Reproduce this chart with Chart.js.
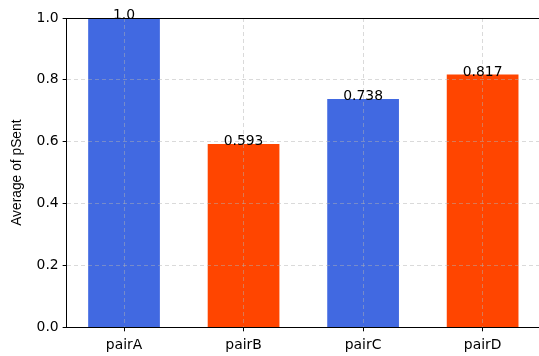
<!DOCTYPE html>
<html><head><meta charset="utf-8">
<script src="https://cdn.jsdelivr.net/npm/chart.js@4/dist/chart.umd.min.js"></script>
<style>html,body{margin:0;padding:0;background:#fff;overflow:hidden}</style>
</head><body>
<canvas id="c" width="545" height="360" style="display:block;width:545px;height:360px"></canvas>
<script>
const categories = ["pairA", "pairB", "pairC", "pairD"];
const values = [1.0, 0.593, 0.738, 0.817];
const valueLabels = ["1.0", "0.593", "0.738", "0.817"];
const barColors = ["#4169E1", "#FF4500", "#4169E1", "#FF4500"];
const yTicks = [0.0, 0.2, 0.4, 0.6, 0.8, 1.0];

const FONT = "'DejaVu Sans', sans-serif";
const FS = 13.9;
const gridColor = "rgba(176,176,176,0.6)";

const topSpine = {
  id: 'topSpine',
  afterDraw(chart) {
    const {ctx, chartArea} = chart;
    ctx.save();
    ctx.strokeStyle = '#000';
    ctx.lineWidth = 1;
    ctx.beginPath();
    ctx.moveTo(chartArea.left, Math.round(chartArea.top) + 0.5);
    ctx.lineTo(chartArea.right, Math.round(chartArea.top) + 0.5);
    ctx.stroke();
    ctx.restore();
  }
};
const barLabels = {
  id: 'barLabels',
  afterDraw(chart) {
    const {ctx} = chart;
    const meta = chart.getDatasetMeta(0);
    ctx.save();
    ctx.font = FS + "px " + FONT;
    ctx.fillStyle = '#000';
    ctx.textAlign = 'center';
    ctx.textBaseline = 'alphabetic';
    meta.data.forEach((bar, i) => {
      ctx.fillText(valueLabels[i], bar.x, bar.y + 1);
    });
    ctx.restore();
  }
};

const gridOpts = {
  z: 1,
  offset: false,
  color: gridColor,
  lineWidth: 0.8,
  drawTicks: true,
  tickLength: 4,
  tickColor: '#000',
  tickBorderDash: [],
  tickWidth: 1
};

new Chart(document.getElementById('c'), {
  type: 'bar',
  data: {
    datasets: [{
      data: categories.map((c, i) => ({x: i, y: values[i]})),
      backgroundColor: barColors,
      borderWidth: 0,
      barPercentage: 0.6,
      categoryPercentage: 1.0
    }]
  },
  options: {
    responsive: false,
    animation: false,
    devicePixelRatio: 1,
    layout: {padding: {left: 5, top: 18, right: 5, bottom: 0}},
    plugins: {legend: {display: false}, tooltip: {enabled: false}},
    scales: {
      x: {
        type: 'linear',
        offset: false,
        min: -0.48,
        max: categories.length - 1 + 0.48,
        afterBuildTicks: (scale) => { scale.ticks = categories.map((c, i) => ({value: i})); },
        grid: gridOpts,
        border: {display: true, color: '#000', width: 1, dash: [4, 3], z: 2},
        ticks: {
          color: '#000',
          font: {family: FONT, size: FS},
          padding: 6,
          autoSkip: false,
          maxRotation: 0,
          callback: (v) => categories[v] !== undefined ? categories[v] : ''
        }
      },
      y: {
        min: 0,
        max: 1,
        afterBuildTicks: (scale) => { scale.ticks = yTicks.map(v => ({value: v})); },
        grid: gridOpts,
        border: {display: true, color: '#000', width: 1, dash: [4, 3], z: 2},
        ticks: {
          color: '#000',
          font: {family: FONT, size: FS},
          padding: 4,
          callback: (v) => Number(v).toFixed(1)
        },
        title: {display: true, text: 'Average of pSent', color: '#000', font: {family: "'Liberation Sans', Arial, sans-serif", size: 13.8}, padding: {top: 4, bottom: 7}}
      }
    }
  },
  plugins: [topSpine, barLabels]
});
</script>
</body></html>
